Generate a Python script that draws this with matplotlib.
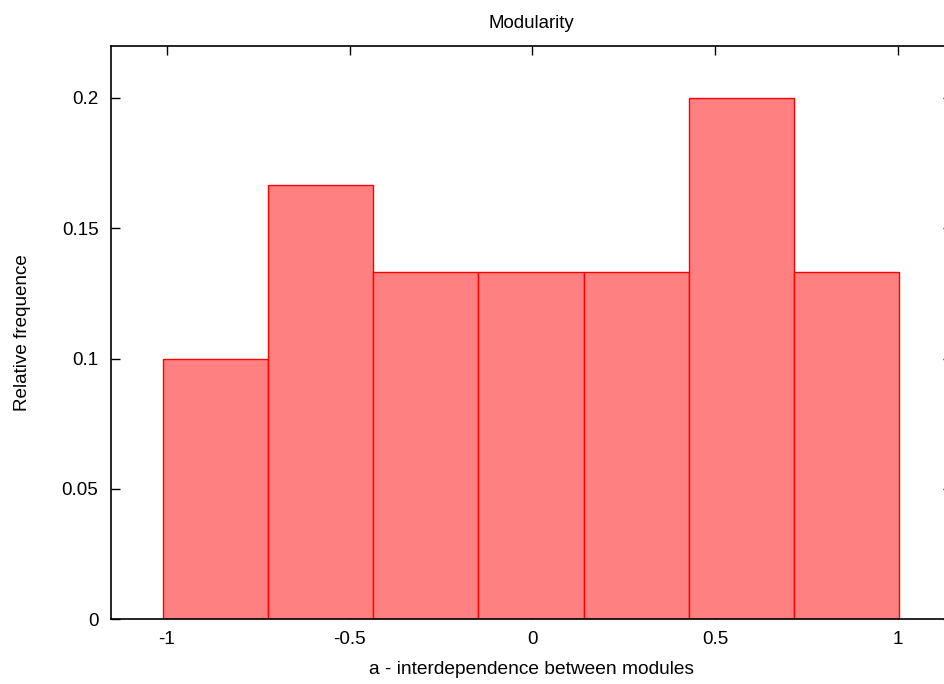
import matplotlib
matplotlib.use("Agg")
import matplotlib.pyplot as plt

bin_left = [-1.011, -0.7232, -0.4354, -0.1476, 0.1402, 0.4280, 0.7158]
bin_width = 0.2878
freq = [0.1, 0.1667, 0.1333, 0.1333, 0.1333, 0.2, 0.1333]
xticks = [-1, -0.5, 0, 0.5, 1]
xtick_labels = ["-1", "-0.5", "0", "0.5", "1"]
yticks = [0, 0.05, 0.1, 0.15, 0.2]
ytick_labels = ["0", "0.05", "0.1", "0.15", "0.2"]

plt.rcParams['font.family'] = ['Liberation Sans', 'DejaVu Sans']
fig = plt.figure(figsize=(9.45, 6.84), dpi=100)
ax = fig.add_axes([111 / 945, 1 - 619.3 / 684, 840.7 / 945, (619.3 - 45.7) / 684])
ax.set_axisbelow(True)
ax.bar(bin_left, freq, width=bin_width, align='edge', color='#ff8080',
       edgecolor='#ff0000', linewidth=1.0, zorder=2)
ax.set_xlim(-1.153, 1.147)
ax.set_ylim(0, 0.22)
ax.set_xticks(xticks)
ax.set_xticklabels(xtick_labels)
ax.set_yticks(yticks)
ax.set_yticklabels(ytick_labels)
ax.tick_params(direction='in', length=6.5, width=1, top=True, right=True,
               labelsize=13.6)
ax.tick_params(axis='x', pad=8.5)
ax.tick_params(axis='y', pad=9)
for s in ax.spines.values():
    s.set_linewidth(1.2)
    s.set_zorder(3)
ax.set_title("Modularity", fontsize=13.4, pad=13)
ax.set_xlabel("a - interdependence between modules", fontsize=13.8, labelpad=9)
ax.set_ylabel("Relative frequence", fontsize=13.6, labelpad=22)
fig.savefig("out.png", dpi=100)
